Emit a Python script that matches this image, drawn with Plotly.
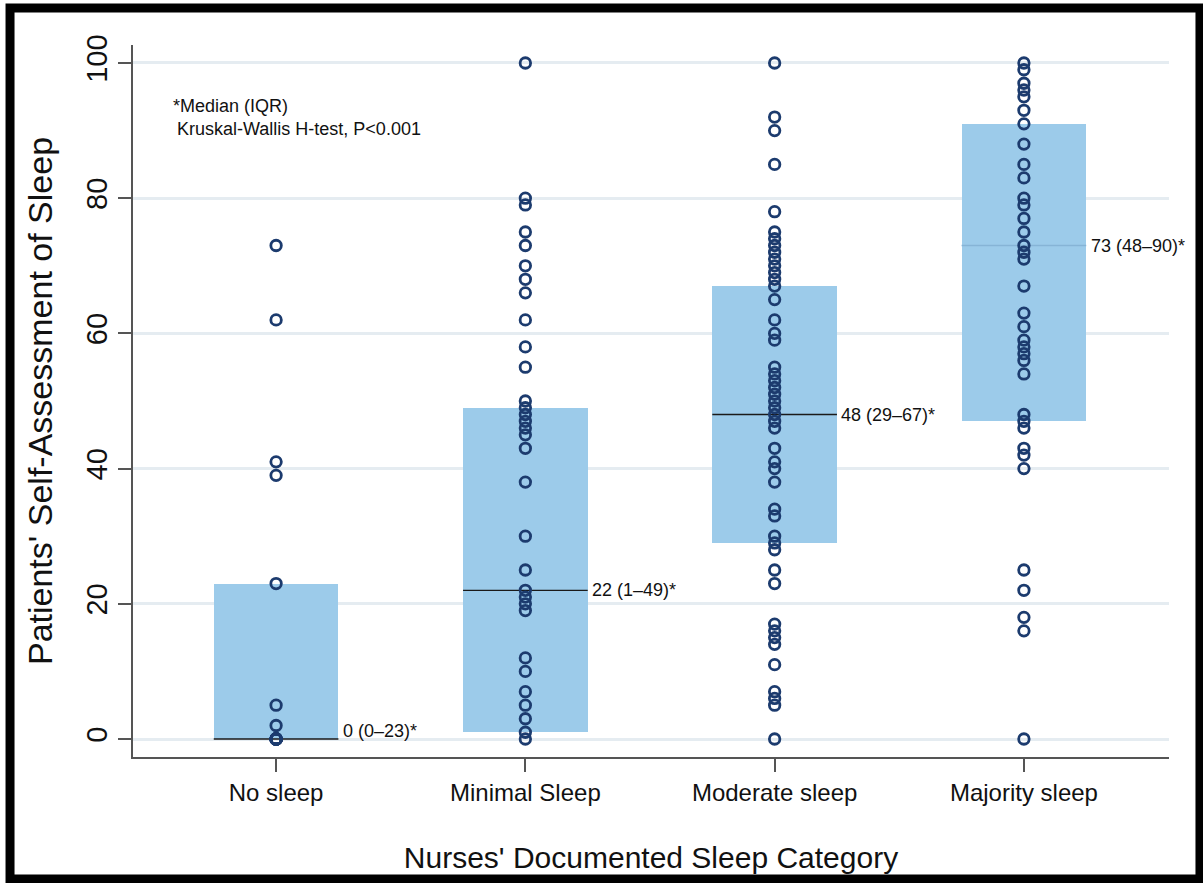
import plotly.graph_objects as go

categories = ["No sleep", "Minimal Sleep", "Moderate sleep", "Majority sleep"]

no_sleep = [73, 62, 41, 39, 23, 5, 2, 0, 0, 0, 0, 0, 0, 0, 0, 0]
minimal_sleep = [100, 80, 79, 75, 73, 70, 68, 66, 62, 58, 55, 50, 49, 48, 47, 46, 45, 43,
                 38, 30, 25, 22, 21, 20, 19, 12, 10, 7, 5, 3, 1, 0]
moderate_sleep = [100, 92, 90, 85, 78, 75, 74, 73, 72, 71, 70, 69, 68, 67, 65, 62, 60, 59,
                  55, 54, 53, 52, 51, 50, 49, 48, 47, 46, 43, 41, 40, 38, 34, 33, 30, 29,
                  28, 25, 23, 17, 16, 15, 14, 11, 7, 6, 5, 0]
majority_sleep = [100, 99, 97, 96, 95, 93, 91, 88, 85, 83, 80, 79, 77, 75, 73, 72, 71, 67,
                  63, 61, 59, 58, 57, 56, 54, 48, 47, 46, 43, 42, 40, 25, 22, 18, 16, 0]

q1 = [0, 1, 29, 47]
q3 = [23, 49, 67, 91]
medians = [0, 22, 48, 73]
median_labels = ["0 (0\u201323)*", "22 (1\u201349)*", "48 (29\u201367)*", "73 (48\u201390)*"]

y_ticks = [0, 20, 40, 60, 80, 100]

series = [no_sleep, minimal_sleep, moderate_sleep, majority_sleep]
xpos = list(range(len(categories)))

BOX = "#9ccbea"
NAVY = "#1c3b6e"
FONT = "Liberation Sans, Arial, sans-serif"
NARROW = "Liberation Sans Narrow, Arial Narrow, Liberation Sans, Arial, sans-serif"

fig = go.Figure()

# IQR boxes
fig.add_trace(go.Bar(
    x=xpos, y=[b - a for a, b in zip(q1, q3)], base=q1, width=0.5,
    marker=dict(color=BOX, line=dict(width=0)), showlegend=False, hoverinfo="skip"))

# median lines
for i, m in enumerate(medians):
    fig.add_trace(go.Scatter(
        x=[i - 0.25, i + 0.25], y=[m, m], mode="lines",
        line=dict(color="#1a1a1a" if i < 3 else "#86b4d6", width=1.3),
        showlegend=False, hoverinfo="skip"))

# data points
for i, vals in enumerate(series):
    fig.add_trace(go.Scatter(
        x=[i] * len(vals), y=vals, mode="markers",
        marker=dict(symbol="circle-open", size=10.5, color=NAVY, line=dict(width=2.8, color=NAVY)),
        showlegend=False))

# median labels
label_y = [1.2, 22, 48, 73]
for i, (ly, txt) in enumerate(zip(label_y, median_labels)):
    fig.add_annotation(x=i + 0.26, y=ly, text=txt, showarrow=False, xanchor="left",
                       yanchor="middle", font=dict(family=FONT, size=18, color="#111111"))

fig.add_annotation(x=0.037, y=0.914, xref="paper", yref="paper", text="*Median (IQR)",
                   showarrow=False, xanchor="left", yanchor="middle",
                   font=dict(family=FONT, size=18, color="#111111"))
fig.add_annotation(x=0.041, y=0.882, xref="paper", yref="paper",
                   text="Kruskal-Wallis H-test, P<0.001",
                   showarrow=False, xanchor="left", yanchor="middle",
                   font=dict(family=FONT, size=18, color="#111111"))

# outer black frame
fig.add_shape(type="rect", xref="paper", yref="paper",
              x0=-0.1187, x1=1.0299, y0=-0.1713, y1=1.052,
              line=dict(color="black", width=9), fillcolor="rgba(0,0,0,0)", layer="above")

fig.update_layout(
    width=1203, height=883,
    margin=dict(l=133, r=34, t=45, b=126),
    paper_bgcolor="white", plot_bgcolor="white",
    bargap=0,
    xaxis=dict(
        range=[-0.574, 3.582], tickmode="array", tickvals=xpos, ticktext=categories,
        showgrid=False, zeroline=False, showline=True, linecolor="#555555", linewidth=1.5,
        ticks="outside", ticklen=13, tickwidth=1.5, tickcolor="#555555",
        tickfont=dict(family=FONT, size=24, color="#111111"),
        title=dict(text="Nurses' Documented Sleep Category", standoff=42,
                   font=dict(family=FONT, size=30, color="#111111")),
    ),
    yaxis=dict(
        range=[-2.66, 102.66], tickmode="array", tickvals=y_ticks,
        showgrid=True, gridcolor="#e5ecf1", gridwidth=2.5, zeroline=False,
        showline=True, linecolor="#555555", linewidth=1.5,
        ticks="outside", ticklen=13, tickwidth=1.5, tickcolor="#555555",
        tickangle=-90,
        tickfont=dict(family=NARROW, size=29, color="#111111"),
        title=dict(text="Patients' Self-Assessment of Sleep", standoff=18,
                   font=dict(family=FONT, size=34, color="#111111")),
    ),
)

fig.write_html("out.html", config={"displayModeBar": False},
               post_script="document.body.style.margin='0';")
